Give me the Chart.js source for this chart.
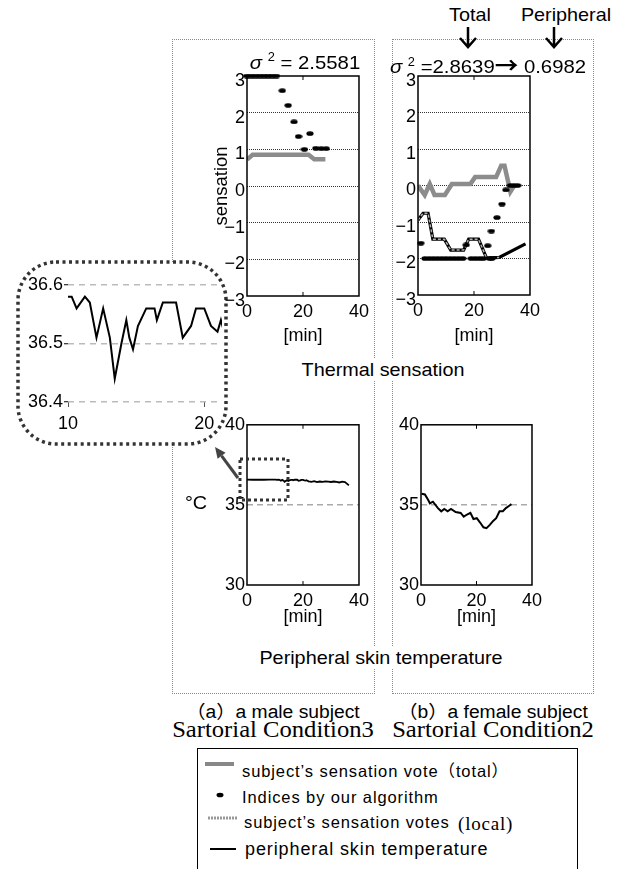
<!DOCTYPE html>
<html>
<head>
<meta charset="utf-8">
<script src="https://cdn.jsdelivr.net/npm/chart.js@4.4.1/dist/chart.umd.min.js"></script>
<style>
body { margin: 0; width: 623px; height: 869px; position: relative; background: #fff; overflow: hidden;
  font-family: "Liberation Sans", Arial, "Noto Sans CJK JP", sans-serif; color: #000; }
canvas { position: absolute; }
.t { position: absolute; transform: translate(-50%, -50%) scaleX(1.07); white-space: nowrap; }
.l { position: absolute; transform: translateY(-50%); transform-origin: left center; white-space: nowrap; }
.bg { background: #fff; padding: 0 2px; }
.serif { font-family: "Liberation Serif", "Times New Roman", serif; }
.box { position: absolute; border: 1px dotted #8a8a8a; box-sizing: border-box; }
sup { font-size: 12px; }
.arr { font-family: "Noto Sans CJK JP", sans-serif; font-size: 22px; font-weight: bold; }
</style>
</head>
<body>
<div class="box" style="left:172px;top:39px;width:203px;height:655px"></div>
<div class="box" style="left:392px;top:39px;width:202px;height:655px"></div>

<svg width="623" height="869" style="position:absolute;left:0;top:0">
  <rect x="18" y="262" width="208" height="182" rx="38" fill="#fff" stroke="#333" stroke-width="3.5" stroke-dasharray="3 3.5"/>
</svg>

<canvas id="inset"></canvas>
<canvas id="tl"></canvas>
<canvas id="tr"></canvas>
<canvas id="bl"></canvas>
<canvas id="br"></canvas>

<div class="t" style="left:470px;top:15px;font-size:18.5px">Total</div>
<div class="t" style="left:566px;top:15px;font-size:18.5px">Peripheral</div>
<div class="t" style="left:305px;top:62px;font-size:19px"><i>σ</i> <sup>2</sup> = 2.5581</div>
<div class="t" style="left:488px;top:63px;font-size:19px"><i>σ</i> <sup>2</sup> =2.8639<span class="arr">→</span> 0.6982</div>
<div class="t bg" style="left:383px;top:370px;font-size:18.5px">Thermal sensation</div>
<div class="t" style="left:196px;top:503px;font-size:18.5px">°C</div>
<div class="t bg" style="left:381px;top:658px;font-size:18.5px">Peripheral skin temperature</div>
<div class="t" style="left:273px;top:710px;font-size:18px">（a）a male subject</div>
<div class="t serif" style="left:273px;top:730px;font-size:23px">Sartorial Condition3</div>
<div class="t" style="left:493px;top:710px;font-size:18px">（b）a female subject</div>
<div class="t serif" style="left:493px;top:730px;font-size:23px">Sartorial Condition2</div>

<div style="position:absolute;left:197px;top:748px;width:381px;height:140px;border:1.5px solid #000;box-sizing:border-box"></div>
<div class="l" style="left:242px;top:770px;font-size:16.5px;letter-spacing:0.9px">subject’s sensation vote（total）</div>
<div class="l" style="left:242px;top:797px;font-size:16.5px;letter-spacing:0.9px">Indices by our algorithm</div>
<div class="l" style="left:244px;top:822px;font-size:16.5px;letter-spacing:0.9px">subject’s sensation votes</div>
<div class="l serif" style="left:458px;top:824px;font-size:19px;letter-spacing:0.8px">(local)</div>
<div class="l" style="left:245px;top:849px;font-size:18px;letter-spacing:0.9px">peripheral skin temperature</div>

<svg width="623" height="869" style="position:absolute;left:0;top:0">
  <g stroke="#000" stroke-width="2.5" fill="none">
    <path d="M468 27V47M460 38L468 47L476 38"/>
    <path d="M554 27V47M546 38L554 47L562 38"/>
  </g>
  <rect x="240" y="459" width="48" height="41" fill="none" stroke="#333" stroke-width="3" stroke-dasharray="3 3"/>
  <line x1="238" y1="478" x2="221.6" y2="455.8" stroke="#444" stroke-width="3"/>
  <polygon points="215,447 225.6,452.8 217.6,458.8" fill="#444"/>
  <line x1="205" y1="764" x2="234" y2="764" stroke="#888" stroke-width="4"/>
  <ellipse cx="220" cy="795" rx="3.5" ry="2.3" fill="#000"/>
  <line x1="208" y1="818" x2="238" y2="818" stroke="#999" stroke-width="3" stroke-dasharray="2 1"/>
  <line x1="210" y1="849" x2="236" y2="849" stroke="#000" stroke-width="2"/>
</svg>

<script>
// (a) male subject, sartorial condition 3
const maleVoteX = [0, 2, 22, 24, 28];
const maleVoteY = [0.72, 0.85, 0.85, 0.73, 0.73];
const maleIndexX = [0, 1.5, 3, 4.5, 6, 7.5, 9, 10.5, 12.6, 14.7, 16.8, 18.4, 20.5, 22.5, 24.6, 26.5, 28.3];
const maleIndexY = [3, 3, 3, 3, 3, 3, 3, 3, 2.6, 2.2, 1.75, 1.35, 1.0, 1.43, 1.03, 1.02, 1.02];
const maleTempX = [0, 2, 4, 6, 8, 10.27, 10.63, 11.24, 11.6, 12.09, 12.58, 13.07, 13.43, 13.92, 14.28, 14.5,
  14.77, 15.13, 15.74, 16.35, 16.52, 16.96, 17.93, 18.42, 19.03, 19.39, 20.0, 20.49, 20.97, 21.22,
  22, 23, 24, 25, 26, 27, 28, 29, 30, 31, 32, 33, 34, 35, 36.4];
const maleTempY = [36.58, 36.57, 36.58, 36.57, 36.58, 36.58, 36.56, 36.58, 36.57, 36.51, 36.56, 36.51, 36.44, 36.50, 36.54, 36.51,
  36.49, 36.53, 36.56, 36.56, 36.54, 36.57, 36.57, 36.51, 36.53, 36.56, 36.56, 36.53, 36.52, 36.54,
  36.47, 36.44, 36.48, 36.42, 36.46, 36.44, 36.47, 36.45, 36.43, 36.46, 36.44, 36.40, 36.45, 36.42, 36.22];

// (b) female subject, sartorial condition 2
const femaleVoteX = [0, 2.4, 4.2, 5.9, 9.6, 12.1, 18.7, 20.4, 27.9, 29.7, 30.9, 33, 34.4];
const femaleVoteY = [0, -0.26, 0.04, -0.26, -0.26, 0.04, 0.04, 0.23, 0.23, 0.54, 0.54, -0.17, 0];
const femaleLocalX = [0, 1.8, 3.6, 5.3, 9.4, 11.7, 16.3, 18.1, 21.6, 24.5, 29, 38.4];
const femaleLocalY = [-0.95, -0.76, -0.76, -1.47, -1.47, -1.77, -1.77, -1.47, -1.47, -1.99, -1.97, -1.6];
const femaleIndexX = [1.0, 2.5, 4, 5.5, 7, 8.5, 10, 11.5, 13, 14.5, 16, 17.2, 19, 20.5, 22, 23.3,
  24.9, 25.6, 26.4, 26.2, 28.2, 30, 31.4, 33, 34.3, 35.6];
const femaleIndexY = [-1.58, -2, -2, -2, -2, -2, -2, -2, -2, -2, -2, -1.63, -2, -2, -2, -2,
  -1.65, -2, -2, -1.25, -0.88, -0.51, -0.12, 0, 0, 0];
const femaleTempX = [0.2, 1.4, 2.6, 3.2, 4.3, 6.1, 7.3, 8.4, 9.6, 10.8, 12.5, 14.3, 15.4, 16.6, 17.8, 18.9,
  20.1, 21.3, 22.5, 23.6, 24.8, 26.0, 27.1, 28.3, 29.5, 30.6, 31.8, 32.6];
const femaleTempY = [35.7, 35.65, 35.3, 35.1, 35.2, 34.8, 34.6, 34.75, 34.6, 34.75, 34.55, 34.5, 34.27, 34.4, 34.5, 34.12,
  34.17, 33.9, 33.6, 33.55, 33.75, 34.0, 34.17, 34.6, 34.6, 34.8, 34.95, 35.05];

const sensationTicks = [-3, 3];
const tempRefLine = 35;

Chart.defaults.font.family = '"Liberation Sans", Arial, sans-serif';
Chart.defaults.font.size = 18;
Chart.defaults.color = '#000';

const pts = (xs, ys) => xs.map((x, i) => ({ x, y: ys[i] }));
const minus = v => String(v).replace('-', '\u2212');

// small black ellipse used for the algorithm indices
const dot = document.createElement('canvas');
dot.width = 8; dot.height = 5;
const dg = dot.getContext('2d');
dg.fillStyle = '#000';
dg.beginPath(); dg.ellipse(4, 2.5, 3.6, 2.3, 0, 0, Math.PI * 2); dg.fill();

// box around the plot area and short inner ticks
const frame = {
  id: 'frame',
  afterDraw(chart, args, opts) {
    const { ctx, chartArea: a, scales } = chart;
    ctx.save();
    ctx.strokeStyle = '#000';
    if (opts.box) {
      ctx.lineWidth = 1.5;
      ctx.strokeRect(a.left, a.top, a.right - a.left, a.bottom - a.top);
    }
    ctx.lineWidth = 1;
    (opts.inner || []).forEach(v => {
      const x = scales.x.getPixelForValue(v);
      ctx.beginPath();
      ctx.moveTo(x, a.bottom); ctx.lineTo(x, a.bottom - 4);
      ctx.moveTo(x, a.top); ctx.lineTo(x, a.top + 4);
      ctx.stroke();
    });
    ctx.restore();
  }
};

function plot(id, g, datasets, x, y, frameOpts) {
  const cv = document.getElementById(id);
  cv.width = g.yW + g.w + g.pr;
  cv.height = g.pt + g.h + g.xH;
  cv.style.left = (g.x - g.yW) + 'px';
  cv.style.top = (g.y - g.pt) + 'px';
  x.afterFit = s => { s.height = g.xH; };
  y.afterFit = s => { s.width = g.yW; };
  return new Chart(cv, {
    type: 'scatter',
    data: { datasets },
    options: {
      responsive: false,
      animation: false,
      layout: { padding: { top: g.pt, right: g.pr, left: 0, bottom: 0 } },
      plugins: { legend: { display: false }, tooltip: { enabled: false }, frame: frameOpts },
      scales: { x, y }
    },
    plugins: [frame]
  });
}

const minuteAxis = () => ({
  type: 'linear', min: 0, max: 40,
  grid: { display: false, drawTicks: false }, border: { display: false },
  ticks: { stepSize: 20, padding: 5, maxRotation: 0 },
  title: { display: true, text: '[min]', padding: { top: 0, bottom: 0 } }
});
const sensationAxis = () => ({
  min: -3, max: 3,
  grid: { color: c => sensationTicks.includes(c.tick.value) ? 'rgba(0,0,0,0)' : '#333', lineWidth: 1, drawTicks: false },
  border: { display: false, dash: [1, 1] },
  ticks: { stepSize: 1, padding: 2, labelOffset: 5, callback: minus }
});
const tempAxis = () => ({
  min: 30, max: 40,
  grid: { color: c => c.tick.value === tempRefLine ? '#aaa' : 'rgba(0,0,0,0)', lineWidth: 1.5, drawTicks: false },
  border: { display: false, dash: [6, 4] },
  ticks: { stepSize: 5, padding: 2 }
});

const voteStyle = { showLine: true, borderColor: '#8c8c8c', borderWidth: 4.5, pointRadius: 0 };
const indexStyle = { pointStyle: dot, pointRadius: 4, clip: false };
const tempStyle = { showLine: true, borderColor: '#000', borderWidth: 2, pointRadius: 0 };

// thermal sensation, male
const tlY = sensationAxis();
tlY.title = { display: true, text: 'sensation', font: { size: 18.5 }, padding: { top: 3, bottom: 0 } };
plot('tl', { x: 247, y: 76, w: 115, h: 220, yW: 39, pt: 14, pr: 12, xH: 51 }, [
  Object.assign({ data: pts(maleIndexX, maleIndexY) }, indexStyle),
  Object.assign({ data: pts(maleVoteX, maleVoteY) }, voteStyle)
], minuteAxis(), tlY, { box: true, inner: [20] });

// thermal sensation, female
plot('tr', { x: 418, y: 76, w: 115, h: 219, yW: 30, pt: 14, pr: 12, xH: 52 }, [
  Object.assign({ data: pts(femaleIndexX, femaleIndexY) }, indexStyle),
  { data: pts(femaleLocalX, femaleLocalY), showLine: true, pointRadius: 0, borderWidth: 1.5, borderDash: [3, 2],
    borderColor: '#b0b0b0', segment: { borderColor: s => s.p0.parsed.x >= 29 ? 'rgba(0,0,0,0)' : '#b0b0b0' } },
  { data: pts(femaleLocalX, femaleLocalY), showLine: true, pointRadius: 0, borderWidth: 3.2, borderColor: '#000' },
  Object.assign({ data: pts(femaleVoteX, femaleVoteY) }, voteStyle)
], minuteAxis(), sensationAxis(), { box: true, inner: [20] });

// peripheral skin temperature
plot('bl', { x: 247, y: 424, w: 115, h: 161, yW: 30, pt: 12, pr: 12, xH: 43 }, [
  Object.assign({ data: pts(maleTempX, maleTempY) }, tempStyle, { borderWidth: 1.8 })
], minuteAxis(), tempAxis(), { box: true, inner: [20] });

plot('br', { x: 421, y: 424, w: 114, h: 161, yW: 30, pt: 12, pr: 12, xH: 43 }, [
  Object.assign({ data: pts(femaleTempX, femaleTempY) }, tempStyle)
], minuteAxis(), tempAxis(), { box: true, inner: [20] });

// zoomed detail of the male temperature, 10-21 min
plot('inset', { x: 68, y: 285, w: 154, h: 117, yW: 43, pt: 12, pr: 6, xH: 38 }, [
  Object.assign({ data: pts(maleTempX, maleTempY) }, tempStyle)
], {
  type: 'linear', min: 10, max: 21.3,
  grid: { drawOnChartArea: false, tickLength: 5, color: '#555' }, border: { display: false },
  ticks: { stepSize: 10, includeBounds: false, padding: 6, maxRotation: 0 }
}, {
  min: 36.4, max: 36.6,
  grid: { color: '#bbb', lineWidth: 1.5, tickColor: '#000', tickLength: 4, tickWidth: 1 },
  border: { display: false, dash: [6, 5] },
  ticks: { stepSize: 0.1, padding: 1 }
}, { box: false, inner: [] });
</script>
</body>
</html>
